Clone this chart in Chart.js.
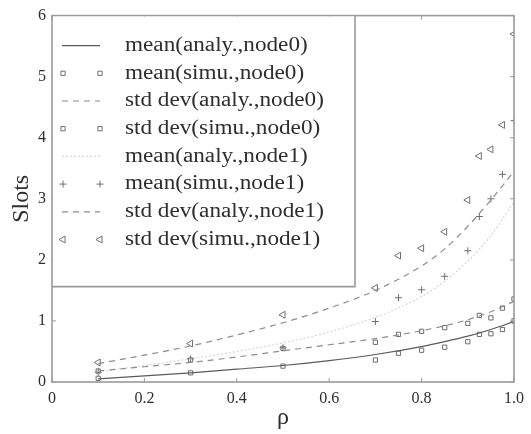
<!DOCTYPE html>
<html>
<head>
<meta charset="utf-8">
<script src="https://cdn.jsdelivr.net/npm/chart.js@4/dist/chart.umd.min.js"></script>
<style>
  html, body { margin: 0; padding: 0; background: #fff; }
</style>
</head>
<body>
<canvas id="c" width="531" height="434"></canvas>
<script>
// Load factor at which the simulation was sampled
const rhoSim = [0.1, 0.3, 0.5, 0.7, 0.75, 0.8, 0.85, 0.9, 0.925, 0.95, 0.975, 1.0];
// Simulated slot statistics
const meanSimNode0 = [0.06, 0.15, 0.26, 0.36, 0.47, 0.52, 0.57, 0.66, 0.78, 0.79, 0.86, 1.00];
const stdSimNode0  = [0.18, 0.36, 0.55, 0.65, 0.78, 0.83, 0.89, 0.96, 1.09, 1.05, 1.21, 1.36];
const meanSimNode1 = [0.16, 0.38, 0.56, 0.99, 1.38, 1.51, 1.73, 2.15, 2.71, 3.00, 3.40, 4.28];
const stdSimNode1  = [0.32, 0.63, 1.10, 1.54, 2.07, 2.19, 2.46, 2.98, 3.70, 3.81, 4.21, 5.70];

// Load factor grid of the analytical model
const rhoAna = [0.1, 0.2, 0.3, 0.4, 0.5, 0.6, 0.7, 0.8, 0.85, 0.9, 0.95, 1.0];
const meanAnaNode0 = [0.05, 0.10, 0.15, 0.21, 0.27, 0.35, 0.45, 0.58, 0.66, 0.75, 0.86, 0.99];
const stdAnaNode0  = [0.18, 0.25, 0.32, 0.41, 0.51, 0.61, 0.71, 0.84, 0.92, 1.02, 1.15, 1.32];
const meanAnaNode1 = [0.17, 0.27, 0.38, 0.50, 0.64, 0.82, 1.06, 1.40, 1.65, 1.98, 2.40, 2.95];
const stdAnaNode1  = [0.30, 0.44, 0.59, 0.77, 0.97, 1.21, 1.50, 1.90, 2.18, 2.55, 2.98, 3.45];

// Axis ticks
const xTicks = [0, 0.2, 0.4, 0.6, 0.8, 1];
const yTicks = [0, 1, 2, 3, 4, 5, 6];

const SERIF = '"Liberation Serif", "Times New Roman", serif';
const INK = '#2e2e2e';
const AXIS = '#9a9a9a';

function pts(xs, ys) { return xs.map((x, i) => ({ x, y: ys[i] })); }

function lineSet(label, xs, ys, color, dash, width) {
  return {
    label, data: pts(xs, ys), showLine: true, borderColor: color, borderWidth: width,
    borderDash: dash, pointRadius: 0, cubicInterpolationMode: 'monotone', fill: false
  };
}
function pointSet(label, xs, ys, style, radius, rotation) {
  return {
    label, data: pts(xs, ys), showLine: false, pointStyle: style, pointRadius: radius,
    pointRotation: rotation || 0, borderColor: '#6e6e6e', backgroundColor: 'rgba(0,0,0,0)',
    pointBorderWidth: 1, borderWidth: 1
  };
}

const datasets = [
  lineSet('mean(analy.,node0)', rhoAna, meanAnaNode0, '#5a5a5a', [], 1.2),
  pointSet('mean(simu.,node0)', rhoSim, meanSimNode0, 'rect', 3),
  lineSet('std dev(analy.,node0)', rhoAna, stdAnaNode0, '#8c8c8c', [6, 5], 1.2),
  pointSet('std dev(simu.,node0)', rhoSim, stdSimNode0, 'rect', 3),
  lineSet('mean(analy.,node1)', rhoAna, meanAnaNode1, '#d6d6d6', [2, 2], 1.2),
  pointSet('mean(simu.,node1)', rhoSim, meanSimNode1, 'cross', 3.5),
  lineSet('std dev(analy.,node1)', rhoAna, stdAnaNode1, '#8c8c8c', [6, 5], 1.2),
  pointSet('std dev(simu.,node1)', rhoSim, stdSimNode1, 'triangle', 4, 270)
];

// Frame, inward ticks and boxed legend drawn in the upper-left corner
const framePlugin = {
  id: 'frame',
  afterDatasetsDraw(chart) {
    const { ctx, chartArea: a, scales: { x, y } } = chart;
    ctx.save();
    ctx.strokeStyle = AXIS;
    ctx.lineWidth = 1.6;
    ctx.strokeRect(a.left, a.top, a.right - a.left, a.bottom - a.top);

    ctx.lineWidth = 1;
    const tl = 4;
    ctx.beginPath();
    xTicks.forEach(v => {
      const px = x.getPixelForValue(v);
      ctx.moveTo(px, a.bottom); ctx.lineTo(px, a.bottom - tl);
      ctx.moveTo(px, a.top); ctx.lineTo(px, a.top + tl);
    });
    yTicks.forEach(v => {
      const py = y.getPixelForValue(v);
      ctx.moveTo(a.left, py); ctx.lineTo(a.left + tl, py);
      ctx.moveTo(a.right, py); ctx.lineTo(a.right - tl, py);
    });
    ctx.stroke();

    // legend box
    const boxRight = a.left + 303;
    const boxBottom = a.top + 271;
    ctx.fillStyle = '#fff';
    ctx.fillRect(a.left + 1, a.top + 1, boxRight - a.left - 1, boxBottom - a.top - 1);
    ctx.strokeStyle = AXIS;
    ctx.lineWidth = 1.6;
    ctx.beginPath();
    ctx.moveTo(a.left, boxBottom); ctx.lineTo(boxRight, boxBottom); ctx.lineTo(boxRight, a.top);
    ctx.stroke();

    const x0 = a.left + 10, x1 = a.left + 48, tx = a.left + 73;
    chart.data.datasets.forEach((ds, i) => {
      const ry = a.top + 30 + i * 27.7;
      if (ds.showLine) {
        ctx.save();
        ctx.strokeStyle = ds.borderColor;
        ctx.lineWidth = ds.borderWidth;
        ctx.setLineDash(ds.borderDash || []);
        ctx.beginPath(); ctx.moveTo(x0, ry); ctx.lineTo(x1, ry); ctx.stroke();
        ctx.restore();
      } else {
        ctx.save();
        ctx.strokeStyle = ds.borderColor;
        ctx.fillStyle = ds.backgroundColor;
        ctx.lineWidth = 1;
        const opts = { pointStyle: ds.pointStyle, radius: ds.pointRadius, rotation: ds.pointRotation, borderWidth: 1 };
        Chart.helpers.drawPoint(ctx, opts, x0 + 1, ry);
        Chart.helpers.drawPoint(ctx, opts, x1, ry);
        ctx.restore();
      }
      // legend labels are set slightly wide
      ctx.save();
      ctx.translate(tx, ry);
      ctx.scale(1.16, 1);
      ctx.fillStyle = INK;
      ctx.font = '20px ' + SERIF;
      ctx.textBaseline = 'middle';
      ctx.textAlign = 'left';
      ctx.fillText(ds.label, 0, 0);
      ctx.restore();
    });
    ctx.restore();
  }
};

new Chart(document.getElementById('c'), {
  type: 'scatter',
  data: { datasets },
  options: {
    responsive: false,
    animation: false,
    devicePixelRatio: 1,
    layout: { padding: { top: 12, right: 7, left: 0, bottom: 0 } },
    plugins: { legend: { display: false }, tooltip: { enabled: false } },
    scales: {
      x: {
        type: 'linear', min: 0, max: 1,
        afterFit(s) { s.height = 52; },
        afterBuildTicks(s) { s.ticks = xTicks.map(v => ({ value: v })); },
        grid: { display: false, drawTicks: false },
        border: { display: false },
        ticks: { color: INK, padding: 7, font: { family: SERIF, size: 16 }, maxRotation: 0 },
        title: { display: true, text: 'ρ', color: INK, font: { family: SERIF, size: 24 }, padding: { top: 0, bottom: 2 } }
      },
      y: {
        type: 'linear', min: 0, max: 6,
        afterFit(s) { s.width = 52; },
        afterBuildTicks(s) { s.ticks = yTicks.map(v => ({ value: v })); },
        grid: { display: false, drawTicks: false },
        border: { display: false },
        ticks: { color: INK, padding: 6, font: { family: SERIF, size: 16 } },
        title: { display: true, text: 'Slots', color: INK, font: { family: SERIF, size: 24 }, padding: { top: 7, bottom: 0 } }
      }
    }
  },
  plugins: [framePlugin]
});
</script>
</body>
</html>
